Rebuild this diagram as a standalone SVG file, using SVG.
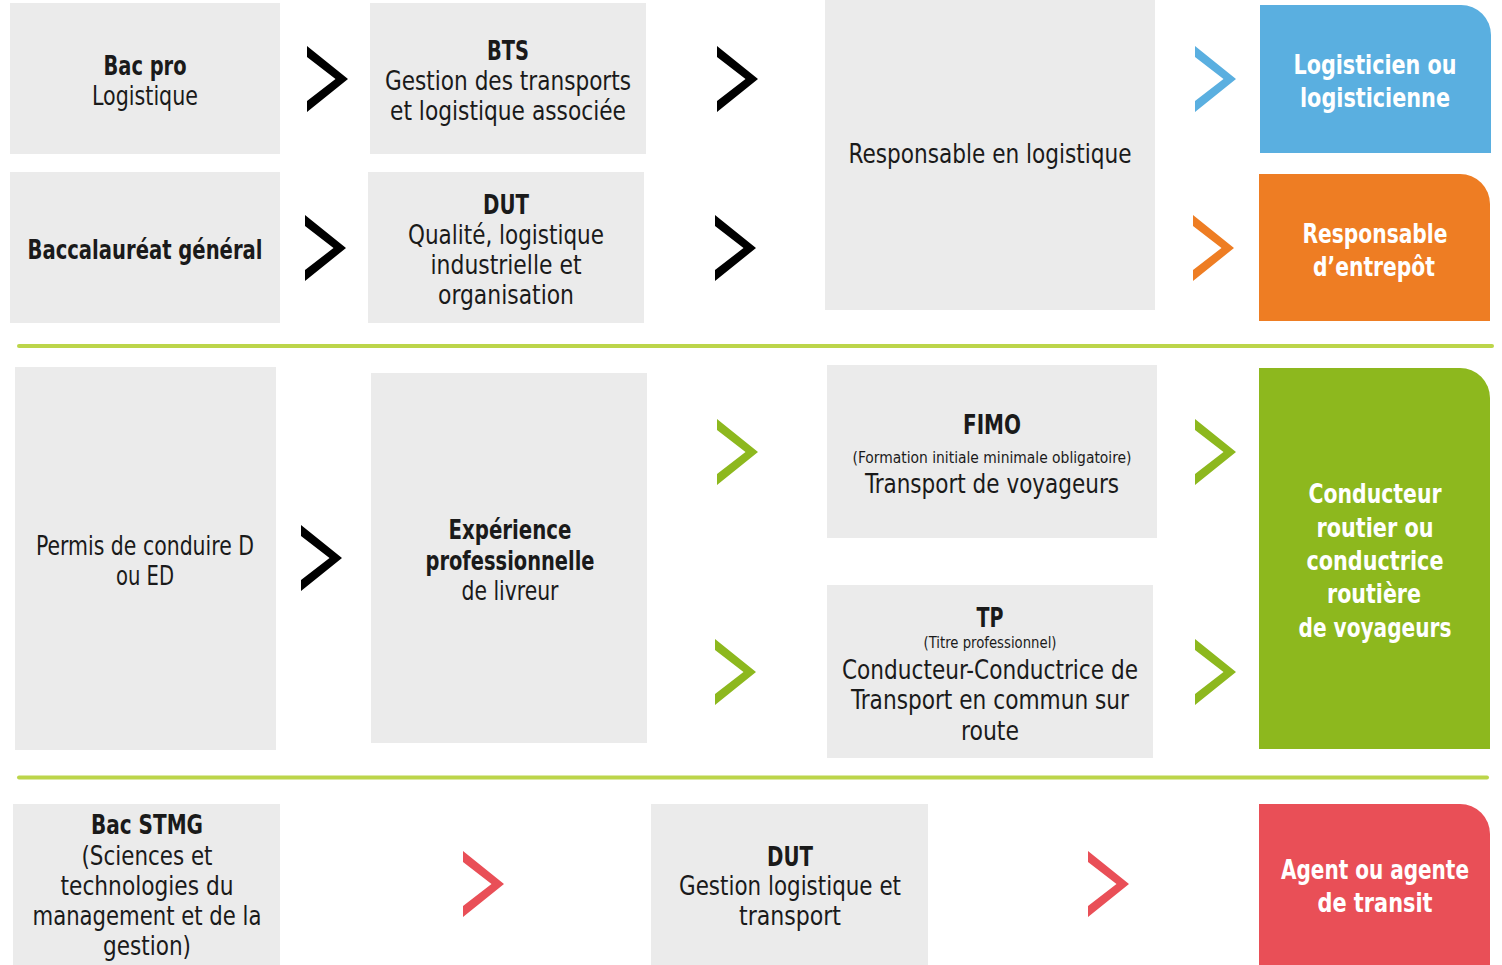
<svg xmlns="http://www.w3.org/2000/svg" xmlns:xlink="http://www.w3.org/1999/xlink" width="1502" height="965" viewBox="0 0 1502 965">
<style>
.box{fill:#ebebeb}
text{font-family:"DejaVu Sans Condensed","DejaVu Sans","Liberation Sans",sans-serif;font-stretch:condensed;font-size:27px;text-anchor:middle;fill:#1a1a1a}
.b{font-weight:bold}
.w{fill:#ffffff;font-weight:bold}
.s{font-size:16px}
.sep{stroke:#bcd54a;stroke-width:4;stroke-linecap:round;fill:none}
.k{fill:#000000}.bl{fill:#5aafe0}.or{fill:#ee7d23}.gr{fill:#8db81e}.rd{fill:#e94f57}
</style>
<defs>
<path id="chev" d="M-20.5,-33 L20.5,0 L-20.5,33 L-20.5,22 L8,0 L-20.5,-22 Z"/>
</defs>
<rect width="1502" height="965" fill="#ffffff"/>
<g id="separators">
<line class="sep" x1="19" y1="346" x2="1492" y2="346"/>
<line class="sep" x1="19" y1="777.5" x2="1487" y2="777.5"/>
</g>
<g id="bacpro"><rect class="box" x="10" y="3" width="270" height="151"/>
<text class="b" x="145" y="75" textLength="83" lengthAdjust="spacingAndGlyphs">Bac pro</text>
<text x="145" y="105" textLength="106" lengthAdjust="spacingAndGlyphs">Logistique</text></g>
<g id="bts"><rect class="box" x="370" y="3" width="276" height="151"/>
<text class="b" x="508" y="60" textLength="42" lengthAdjust="spacingAndGlyphs">BTS</text>
<text x="508" y="90" textLength="246" lengthAdjust="spacingAndGlyphs">Gestion des transports</text>
<text x="508" y="120" textLength="236" lengthAdjust="spacingAndGlyphs">et logistique associée</text></g>
<g id="bacgen"><rect class="box" x="10" y="172" width="270" height="151"/>
<text class="b" x="145" y="259" textLength="235" lengthAdjust="spacingAndGlyphs">Baccalauréat général</text></g>
<g id="dut1"><rect class="box" x="368" y="172" width="276" height="151"/>
<text class="b" x="506" y="214" textLength="46" lengthAdjust="spacingAndGlyphs">DUT</text>
<text x="506" y="244" textLength="196" lengthAdjust="spacingAndGlyphs">Qualité, logistique</text>
<text x="506" y="274" textLength="151" lengthAdjust="spacingAndGlyphs">industrielle et</text>
<text x="506" y="304" textLength="136" lengthAdjust="spacingAndGlyphs">organisation</text></g>
<g id="resplog"><rect class="box" x="825" y="0" width="330" height="310"/>
<text x="990" y="163" textLength="283" lengthAdjust="spacingAndGlyphs">Responsable en logistique</text></g>
<g id="logisticien"><path class="bl" d="M1260,5 H1461 A30,30 0 0 1 1491,35 V153 H1260 Z"/>
<text class="w" x="1375" y="74" textLength="163" lengthAdjust="spacingAndGlyphs">Logisticien ou</text>
<text class="w" x="1375" y="107" textLength="150" lengthAdjust="spacingAndGlyphs">logisticienne</text></g>
<g id="entrepot"><path class="or" d="M1259,174 H1460 A30,30 0 0 1 1490,204 V321 H1259 Z"/>
<text class="w" x="1375" y="243" textLength="145" lengthAdjust="spacingAndGlyphs">Responsable</text>
<text class="w" x="1374" y="276" textLength="122" lengthAdjust="spacingAndGlyphs">d’entrepôt</text></g>
<g id="permis"><rect class="box" x="15" y="367" width="261" height="383"/>
<text x="145" y="555" textLength="218" lengthAdjust="spacingAndGlyphs">Permis de conduire D</text>
<text x="145" y="585" textLength="58" lengthAdjust="spacingAndGlyphs">ou ED</text></g>
<g id="experience"><rect class="box" x="371" y="373" width="276" height="370"/>
<text class="b" x="510" y="539" textLength="123" lengthAdjust="spacingAndGlyphs">Expérience</text>
<text class="b" x="510" y="570" textLength="169" lengthAdjust="spacingAndGlyphs">professionnelle</text>
<text x="510" y="600" textLength="97" lengthAdjust="spacingAndGlyphs">de livreur</text></g>
<g id="fimo"><rect class="box" x="827" y="365" width="330" height="173"/>
<text class="b" x="992" y="434" textLength="58" lengthAdjust="spacingAndGlyphs">FIMO</text>
<text class="s" x="992" y="463" textLength="279" lengthAdjust="spacingAndGlyphs">(Formation initiale minimale obligatoire)</text>
<text x="992" y="493" textLength="254" lengthAdjust="spacingAndGlyphs">Transport de voyageurs</text></g>
<g id="tp"><rect class="box" x="827" y="585" width="326" height="173"/>
<text class="b" x="990" y="627" textLength="27" lengthAdjust="spacingAndGlyphs">TP</text>
<text class="s" x="990" y="648" textLength="133" lengthAdjust="spacingAndGlyphs">(Titre professionnel)</text>
<text x="990" y="679" textLength="296" lengthAdjust="spacingAndGlyphs">Conducteur-Conductrice de</text>
<text x="990" y="709" textLength="278" lengthAdjust="spacingAndGlyphs">Transport en commun sur</text>
<text x="990" y="740" textLength="58" lengthAdjust="spacingAndGlyphs">route</text></g>
<g id="conducteur"><path class="gr" d="M1259,368 H1460 A30,30 0 0 1 1490,398 V749 H1259 Z"/>
<text class="w" x="1375" y="503" textLength="133" lengthAdjust="spacingAndGlyphs">Conducteur</text>
<text class="w" x="1375" y="537" textLength="117" lengthAdjust="spacingAndGlyphs">routier ou</text>
<text class="w" x="1375" y="570" textLength="137" lengthAdjust="spacingAndGlyphs">conductrice</text>
<text class="w" x="1374" y="603" textLength="94" lengthAdjust="spacingAndGlyphs">routière</text>
<text class="w" x="1375" y="637" textLength="153" lengthAdjust="spacingAndGlyphs">de voyageurs</text></g>
<g id="bacstmg"><rect class="box" x="13" y="804" width="267" height="161"/>
<text class="b" x="147" y="834" textLength="112" lengthAdjust="spacingAndGlyphs">Bac STMG</text>
<text x="147" y="865" textLength="131" lengthAdjust="spacingAndGlyphs">(Sciences et</text>
<text x="147" y="895" textLength="173" lengthAdjust="spacingAndGlyphs">technologies du</text>
<text x="147" y="925" textLength="229" lengthAdjust="spacingAndGlyphs">management et de la</text>
<text x="147" y="955" textLength="88" lengthAdjust="spacingAndGlyphs">gestion)</text></g>
<g id="dut2"><rect class="box" x="651" y="804" width="277" height="161"/>
<text class="b" x="790" y="866" textLength="46" lengthAdjust="spacingAndGlyphs">DUT</text>
<text x="790" y="895" textLength="222" lengthAdjust="spacingAndGlyphs">Gestion logistique et</text>
<text x="790" y="925" textLength="102" lengthAdjust="spacingAndGlyphs">transport</text></g>
<g id="agent"><path class="rd" d="M1259,804 H1460 A30,30 0 0 1 1490,834 V965 H1259 Z"/>
<text class="w" x="1375" y="879" font-size="26" textLength="188" lengthAdjust="spacingAndGlyphs">Agent ou agente</text>
<text class="w" x="1375" y="912" textLength="115" lengthAdjust="spacingAndGlyphs">de transit</text></g>
<g id="connectors">
<use xlink:href="#chev" class="k" x="327.5" y="79"/>
<use xlink:href="#chev" class="k" x="737.5" y="79"/>
<use xlink:href="#chev" class="k" x="325.5" y="248"/>
<use xlink:href="#chev" class="k" x="735.5" y="248"/>
<use xlink:href="#chev" class="bl" x="1215.5" y="79"/>
<use xlink:href="#chev" class="or" x="1213.5" y="248"/>
<use xlink:href="#chev" class="k" x="321.5" y="558"/>
<use xlink:href="#chev" class="gr" x="737.5" y="452"/>
<use xlink:href="#chev" class="gr" x="735.5" y="672"/>
<use xlink:href="#chev" class="gr" x="1215.5" y="452"/>
<use xlink:href="#chev" class="gr" x="1215.5" y="672"/>
<use xlink:href="#chev" class="rd" x="483.5" y="884"/>
<use xlink:href="#chev" class="rd" x="1108.5" y="884"/>
</g>
</svg>
